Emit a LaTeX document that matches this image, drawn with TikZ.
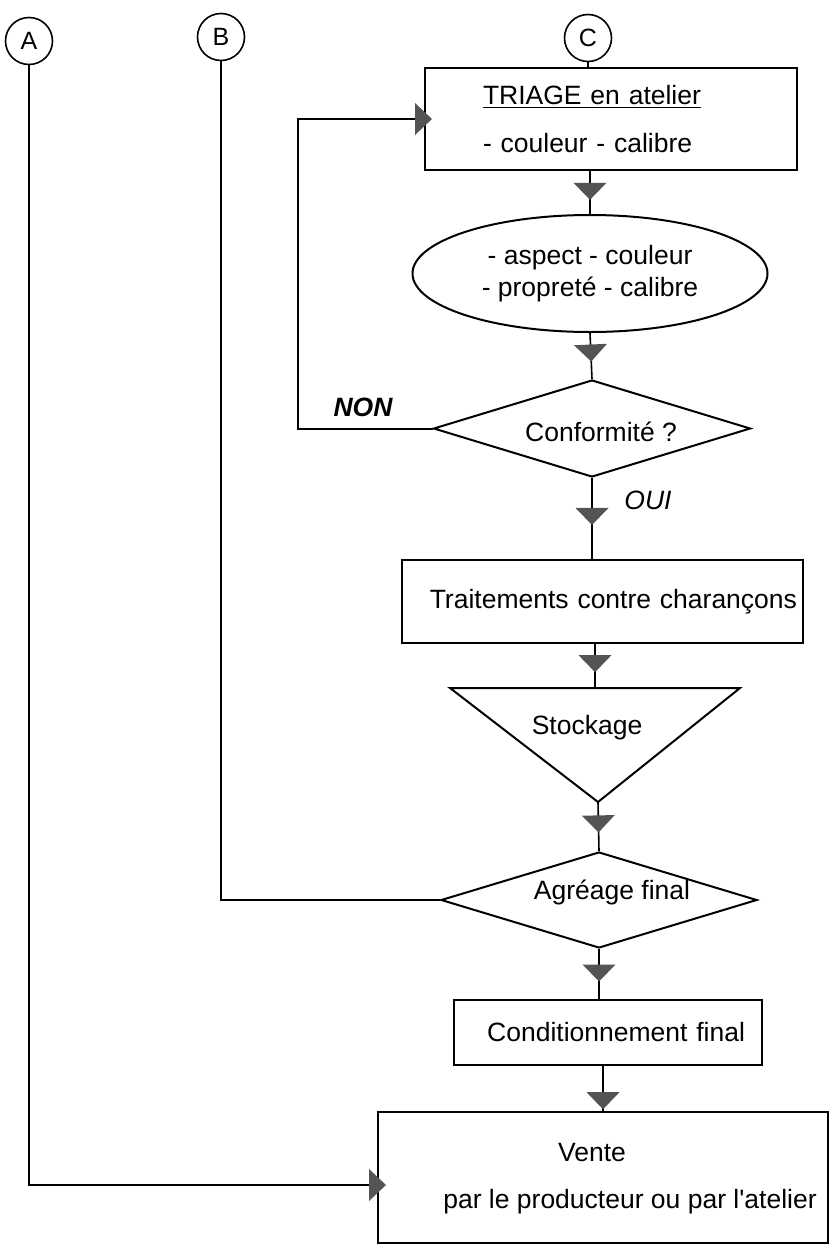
\documentclass[tikz,border=0pt]{standalone}
\usepackage{fontspec}
\setmainfont{Liberation Sans}
\usetikzlibrary{shapes.geometric,decorations.markings}
\definecolor{arrowgray}{gray}{0.33}
\newcommand\myfs{\fontsize{13.25}{16}\selectfont}
\tikzset{
  conn/.style={line width=0.8pt},
  thickconn/.style={line width=1pt},
  boxs/.style={draw, rectangle, line width=1pt, inner ysep=0pt},
  circ/.style={draw, circle, line width=0.8pt, minimum size=23.5pt, inner sep=0pt, font=\fontsize{12.5}{14}\selectfont},
  dia/.style={draw, diamond, line width=1pt, inner sep=0pt},
  midarr/.style={postaction={decorate, decoration={markings,
     mark=at position #1 with {\fill[arrowgray] (0pt,0pt) -- (-8.5pt,8.25pt) -- (-8.5pt,-8.25pt) -- cycle;}}}},
  endarr/.style={postaction={decorate, decoration={markings,
     mark=at position 1 with {\fill[arrowgray] (4pt,0pt) -- (-4.5pt,8pt) -- (-4.5pt,-8pt) -- cycle;}}}},
}
\begin{document}
\begin{tikzpicture}[x=0.5pt, y=-0.5pt, font=\myfs]
\useasboundingbox (0,0) rectangle (832,1248);

% connectors circles
\node[circ] (A) at (29,41) {A};
\node[circ] (B) at (221,37) {B};
\node[circ] (C) at (588,38) {C};

% TRIAGE box
\node[boxs, minimum width=186pt, minimum height=51pt, text width=128pt, inner xsep=29pt,
      align=left, font=\fontsize{13.25}{24}\selectfont] (triage) at (611,119)
      {\underline{TRIAGE en atelier}\\- couleur - calibre};

% ellipse
\node[draw, ellipse, line width=1pt, minimum width=177.5pt, minimum height=58.5pt, inner sep=0pt,
      align=center] (ell) at (590,273.5) {- aspect - couleur\\- propreté - calibre};

% decision Conformite
\node[dia, minimum width=158.5pt, minimum height=48.5pt] (conf) at (592,428.5) {};
\node (confT) at (601,432) {Conformité ?};
\node[font=\myfs\bfseries\itshape] (non) at (363,407) {NON};
\node[font=\myfs\itshape] (oui) at (648,500) {OUI};

% Traitements
\node[boxs, minimum width=200.5pt, minimum height=41.5pt, text width=194.5pt, inner xsep=3pt,
      align=right] (trait) at (602.5,601.5) {Traitements contre charançons};

% Stockage triangle
\coordinate (stL) at (450,688);
\coordinate (stR) at (740,688);
\coordinate (stB) at (598,802);
\coordinate (stT) at (595,688);
\draw[line width=1pt, line join=miter] (stL) -- (stR) -- (stB) -- cycle;
\node (stock) at (587,728) {Stockage};

% Agreage
\node[dia, minimum width=158pt, minimum height=48pt] (agr) at (599,900) {};
\node (agrT) at (612,892) {Agréage final};

% Conditionnement
\node[boxs, minimum width=154pt, minimum height=32.5pt, text width=137pt, inner xsep=8.5pt,
      align=right] (cond) at (608,1032.5) {Conditionnement final};

% Vente
\node[boxs, minimum width=225pt, minimum height=65.5pt] (vente) at (603,1177.5) {};
\node (venteA) at (592,1152) {Vente};
\node (venteB) at (630,1202) {par le producteur ou par l\textquotesingle atelier};
\coordinate (ventein) at (378,1185);

% main flow
\draw[conn] (C.south) -- (C.south |- triage.north);
\draw[conn, midarr=0.67] (ell.north |- triage.south) -- (ell.north);
\draw[conn, midarr=0.62] (ell.south) -- (conf.north);
\draw[conn, midarr=0.58] (conf.south) -- (conf.south |- trait.north);
\draw[conn, midarr=0.64] (stT |- trait.south) -- (stT);
\draw[conn, midarr=0.62] (stB) -- (agr.north);
\draw[conn, midarr=0.65] (agr.south) -- (agr.south |- cond.north);
\draw[conn, midarr=0.96] (vente.north |- cond.south) -- (vente.north);

% loops and side entries
\draw[thickconn, endarr] (conf.west) -- ++(-135,0) |- (triage.west);
\draw[conn] (B.south) |- (agr.west);
\draw[conn, endarr] (A.south) |- (ventein);
\end{tikzpicture}
\end{document}
